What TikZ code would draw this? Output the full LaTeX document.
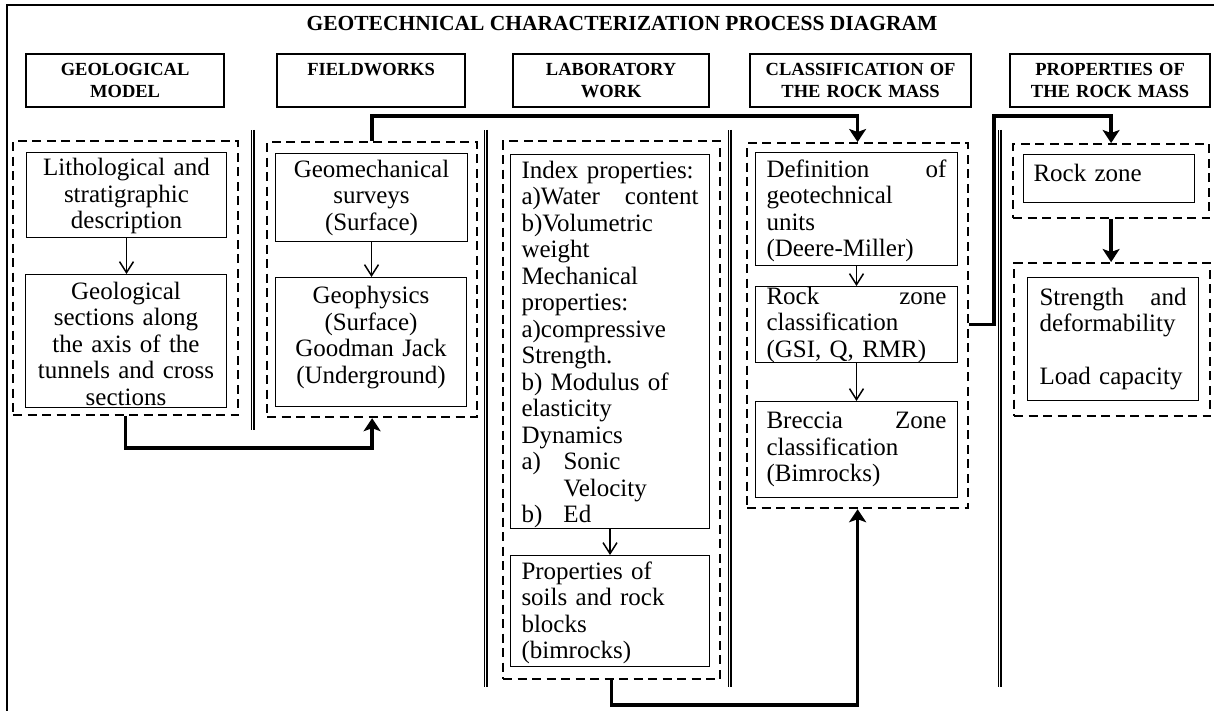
\documentclass[tikz,border=0pt]{standalone}
\usepackage{fontspec}
\setmainfont{Liberation Serif}
\usetikzlibrary{arrows.meta}

\newcommand{\bodyfont}{\fontsize{25pt}{26.5pt}\selectfont}
\newcommand{\headfont}{\fontsize{18.5pt}{21.5pt}\selectfont\bfseries}
\newcommand{\titlefont}{\fontsize{21.5pt}{24pt}\selectfont\bfseries}
\newcommand{\lowpad}[1]{\rule[-#1]{0pt}{1pt}}

\begin{document}
\begin{tikzpicture}[x=1pt, y=-1pt,
	headbox/.style={draw, line width=2.2pt, anchor=north west, inner sep=0pt,
		minimum height=53pt, align=center, font=\headfont},
	grpbox/.style={draw, line width=2.2pt, dash pattern=on 9pt off 5.5pt,
		anchor=north west, inner sep=0pt},
	cellbox/.style={draw, line width=1pt, anchor=north west, inner xsep=11pt,
		inner ysep=0pt, font=\bodyfont},
	thinarrow/.style={line width=1.2pt, -{Straight Barb[length=11pt,width=14pt,line width=1.5pt]}},
	thickarrow/.style={line width=3.5pt, -{Stealth[length=13pt,width=17pt,inset=3pt]}},
	sepline/.style={double, line width=1.1pt, double distance=1.8pt}]

	\useasboundingbox (0,0) rectangle (1214,711);
	\clip (0,0) rectangle (1214,711);
	\draw[line width=2pt] (7,5) rectangle (1230,730);

	\node[font=\titlefont, anchor=base] (title) at (622,31)
		{GEOTECHNICAL CHARACTERIZATION PROCESS DIAGRAM};

	% column headers
	\node[headbox, minimum width=198pt, text width=188pt] (hgeo) at (25,53) {GEOLOGICAL\\MODEL};
	\node[headbox, minimum width=188pt, text width=178pt] (hfield) at (276,53) {FIELDWORKS\\\phantom{X}};
	\node[headbox, minimum width=196pt, text width=186pt] (hlab) at (512,53) {LABORATORY\\WORK};
	\node[headbox, minimum width=221pt, text width=211pt] (hclass) at (749,53) {CLASSIFICATION OF\\THE ROCK MASS};
	\node[headbox, minimum width=200pt, text width=190pt] (hprop) at (1009,53) {PROPERTIES OF\\THE ROCK MASS};

	% separators
	\draw[sepline] (252.5,130) -- (252.5,430);
	\draw[sepline] (485.5,130) -- (485.5,687);
	\draw[sepline] (729.5,130) -- (729.5,687);
	\draw[sepline] (999.5,130) -- (999.5,687);

	% dashed groups
	\node[grpbox, minimum width=225pt, minimum height=274pt] (geogrp) at (12,140) {};
	\node[grpbox, minimum width=210pt, minimum height=275pt] (fieldgrp) at (266,141) {};
	\node[grpbox, minimum width=217pt, minimum height=538pt] (labgrp) at (502,140) {};
	\node[grpbox, minimum width=221pt, minimum height=365pt] (classgrp) at (746,142) {};
	\node[grpbox, minimum width=196pt, minimum height=74pt] (propgrp) at (1012,143) {};
	\node[grpbox, minimum width=196pt, minimum height=153pt] (loadgrp) at (1013,262) {};

	% geological model
	\node[cellbox, align=center, minimum width=200pt, minimum height=85pt, text width=178pt, text height=20pt] (litho) at (26,152)
		{Lithological and\\stratigraphic\\description};
	\node[cellbox, align=center, minimum width=201pt, minimum height=133pt, text width=179pt, text height=23pt] (geosec) at (25,274)
		{Geological\\sections along\\the axis of the\\tunnels and cross\\sections};

	% fieldworks
	\node[cellbox, align=center, minimum width=192pt, minimum height=88pt, text width=170pt] (geomech) at (275,153)
		{Geomechanical\\surveys\\(Surface)};
	\node[cellbox, align=center, minimum width=191pt, minimum height=129pt, text width=169pt] (geophys) at (275,277)
		{Geophysics\\(Surface)\\Goodman Jack\\(Underground)\lowpad{14pt}};

	% laboratory work
	\node[cellbox, align=left, minimum width=199pt, minimum height=373pt, text width=177pt, text height=24pt] (index) at (510,154)
		{Index properties:\\a)Water \hfill content\\b)Volumetric\\weight\\Mechanical\\properties:\\a)compressive\\Strength.\\b) Modulus of\\elasticity\\Dynamics\\\makebox[42pt][l]{a)}Sonic\\\hspace*{42pt}Velocity\\\makebox[42pt][l]{b)}Ed};
	\node[cellbox, align=left, minimum width=199pt, minimum height=111pt, text width=177pt, text height=21pt] (soils) at (510,555)
		{Properties of\\soils and rock\\blocks\\(bimrocks)};

	% classification
	\node[cellbox, align=left, minimum width=202pt, minimum height=113pt, text width=180pt, text height=21pt] (defunits) at (755,152)
		{Definition \hfill of\\geotechnical\\units\\(Deere-Miller)};
	\node[cellbox, align=left, minimum width=202pt, minimum height=76pt, text width=180pt] (rockcls) at (755,286)
		{Rock \hfill zone\\classification\\(GSI, Q, RMR)};
	\node[cellbox, align=left, minimum width=202pt, minimum height=96pt, text width=180pt] (breccia) at (755,401)
		{Breccia \hfill Zone\\classification\\(Bimrocks)};

	% properties
	\node[cellbox, align=left, minimum width=171pt, minimum height=48pt, text width=151pt, inner xsep=10pt, text depth=12pt] (rockzone) at (1023,154)
		{Rock zone};
	\node[cellbox, align=left, minimum width=171pt, minimum height=123pt, text width=147pt, inner xsep=12pt] (strength) at (1027,277)
		{Strength \hfill and\\deformability\\\mbox{}\\Load capacity};

	% arrows inside groups
	\draw[thinarrow] (litho.south) -- (litho.south |- geosec.north);
	\draw[thinarrow] (geomech.south) -- (geomech.south |- geophys.north);
	\draw[thinarrow] (index.south) -- (index.south |- soils.north);
	\draw[thinarrow] (defunits.south) -- (defunits.south |- rockcls.north);
	\draw[thinarrow] (rockcls.south) -- (rockcls.south |- breccia.north);

	% arrows between groups
	\draw[thickarrow] (geogrp.south) -- ++(0,32) -| (fieldgrp.south);
	\draw[thickarrow] (fieldgrp.north) -- ++(0,-25) -| (classgrp.north);
	\draw[thickarrow] (labgrp.south) -- ++(0,25) -| (classgrp.south);
	\draw[thickarrow] (classgrp.east |- rockcls.east) -- ++(25,0) |- ([yshift=27pt]propgrp.north) -- (propgrp.north);
	\draw[thickarrow] (propgrp.south) -- (propgrp.south |- loadgrp.north);

\end{tikzpicture}
\end{document}
